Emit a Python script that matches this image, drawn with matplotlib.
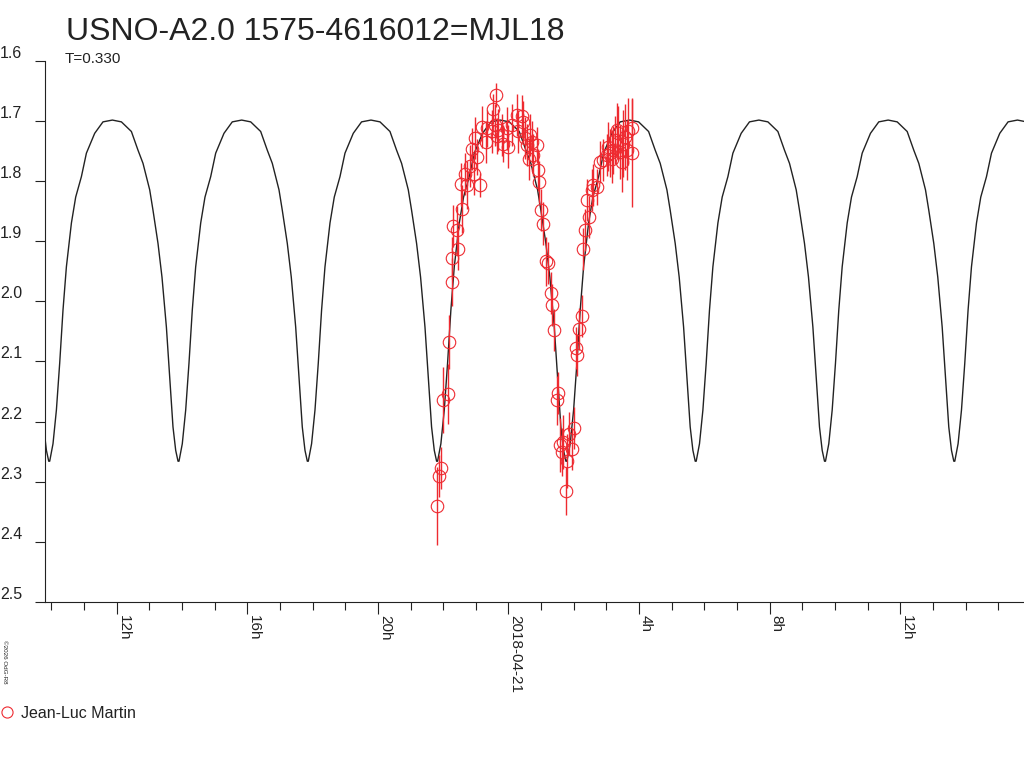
import matplotlib
matplotlib.use("Agg")
import matplotlib.pyplot as plt
from matplotlib.lines import Line2D
import numpy as np

plt.rcParams['font.family'] = ['Liberation Sans', 'DejaVu Sans']

# hours relative to 2018-04-21 00:00
obs_hours = [-2.181, -2.119, -2.067, -1.997, -1.844, -1.813, -1.740, -1.721, -1.691, -1.568,
             -1.556, -1.455, -1.415, -1.332, -1.280, -1.179, -1.127, -1.047, -1.026, -0.974,
             -0.873, -0.821, -0.689, -0.668, -0.515, -0.466, -0.413, -0.392, -0.361, -0.312,
             -0.208, -0.159, -0.055, -0.006, 0.098, 0.251, 0.300, 0.404, 0.453, 0.505,
             0.557, 0.637, 0.658, 0.711, 0.760, 0.864, 0.913, 0.943, 0.986, 1.066,
             1.149, 1.219, 1.292, 1.341, 1.403, 1.476, 1.525, 1.577, 1.629, 1.678,
             1.752, 1.783, 1.853, 1.936, 2.006, 2.067, 2.107, 2.168, 2.242, 2.291,
             2.343, 2.413, 2.475, 2.548, 2.597, 2.701, 2.802, 2.904, 3.008, 3.057,
             3.109, 3.158, 3.210, 3.262, 3.314, 3.363, 3.415, 3.467, 3.516, 3.568,
             3.620, 3.669, 3.773, 3.773]
obs_mag = [2.340, 2.290, 2.278, 2.164, 2.154, 2.068, 1.968, 1.928, 1.875, 1.882,
           1.914, 1.806, 1.847, 1.788, 1.807, 1.776, 1.747, 1.789, 1.729, 1.760,
           1.807, 1.711, 1.736, 1.713, 1.718, 1.681, 1.707, 1.657, 1.725, 1.716,
           1.724, 1.738, 1.713, 1.743, 1.707, 1.691, 1.718, 1.693, 1.702, 1.729,
           1.741, 1.763, 1.724, 1.735, 1.757, 1.741, 1.782, 1.802, 1.849, 1.871,
           1.934, 1.937, 1.987, 2.006, 2.048, 2.165, 2.153, 2.239, 2.251, 2.234,
           2.315, 2.265, 2.220, 2.245, 2.211, 2.078, 2.090, 2.046, 2.025, 1.913,
           1.882, 1.832, 1.860, 1.815, 1.807, 1.810, 1.768, 1.765, 1.757, 1.743,
           1.754, 1.763, 1.749, 1.732, 1.716, 1.721, 1.752, 1.768, 1.738, 1.727,
           1.749, 1.718, 1.713, 1.754]
obs_err = [0.065, 0.035, 0.035, 0.055, 0.050, 0.045, 0.040, 0.035, 0.035, 0.040,
           0.035, 0.035, 0.040, 0.035, 0.040, 0.035, 0.035, 0.035, 0.035, 0.030,
           0.020, 0.035, 0.035, 0.030, 0.035, 0.025, 0.035, 0.020, 0.030, 0.035,
           0.035, 0.030, 0.035, 0.035, 0.035, 0.035, 0.035, 0.035, 0.035, 0.035,
           0.035, 0.035, 0.035, 0.035, 0.035, 0.030, 0.035, 0.035, 0.035, 0.035,
           0.040, 0.035, 0.035, 0.035, 0.035, 0.040, 0.035, 0.045, 0.040, 0.045,
           0.040, 0.045, 0.035, 0.035, 0.035, 0.035, 0.035, 0.035, 0.035, 0.035,
           0.035, 0.035, 0.035, 0.035, 0.035, 0.030, 0.035, 0.035, 0.035, 0.040,
           0.040, 0.040, 0.040, 0.040, 0.045, 0.045, 0.045, 0.050, 0.055, 0.055,
           0.050, 0.055, 0.050, 0.090]

# model light curve: one half-cycle, hours after each minimum
profile_dt = [0.000, 0.101, 0.205, 0.306, 0.407, 0.511, 0.665, 0.796, 0.971, 1.124,
              1.378, 1.632, 1.920, 2.196, 2.502, 2.704, 2.858, 3.063, 3.164, 3.317,
              3.439, 3.574, 3.675, 3.776, 3.859, 3.930]
profile_mag = [2.266, 2.237, 2.181, 2.103, 2.015, 1.943, 1.870, 1.827, 1.793, 1.754,
               1.721, 1.702, 1.699, 1.702, 1.718, 1.749, 1.771, 1.815, 1.849, 1.904,
               1.960, 2.043, 2.126, 2.209, 2.248, 2.266]
minima_hours = [-18.012, -14.052, -10.092, -6.132, -2.172, 1.789, 5.749, 9.709, 13.669]

tick_hours = [-12, -8, -4, 0, 4, 8, 12]
tick_labels = ['12h', '16h', '20h', '2018-04-21', '4h', '8h', '12h']
mag_ticks = [1.6, 1.7, 1.8, 1.9, 2.0, 2.1, 2.2, 2.3, 2.4, 2.5]

curve_t, curve_m = [], []
for t0 in minima_hours:
    for dt, m in zip(profile_dt, profile_mag):
        curve_t.append(t0 + dt)
        curve_m.append(m)

red = '#ee2a30'
ink = '#222222'

fig = plt.figure(figsize=(10.24, 7.68), dpi=100)
ax = fig.add_axes([45 / 1024, 1 - 602 / 768, 1 - 45 / 1024, (602 - 60.5) / 768])

ax.plot(curve_t, curve_m, color=ink, lw=1.0)
ax.errorbar(obs_hours, obs_mag, yerr=obs_err, fmt='o', ms=9, mfc='none', mec=red,
            mew=0.8, ecolor=red, elinewidth=1.0, capsize=0)

ax.set_xlim(-14.196, 15.789)
ax.set_ylim(2.5, 1.6)

ax.set_xticks(tick_hours)
ax.set_xticklabels(tick_labels)
ax.set_xticks(np.arange(-14, 16), minor=True)
ax.tick_params(axis='x', which='major', length=8.6, width=0.8, color=ink, pad=1,
               labelsize=11, labelcolor=ink)
ax.tick_params(axis='x', which='minor', length=5.8, width=0.8, color=ink)
for lbl in ax.get_xticklabels():
    lbl.set_rotation(270)
    lbl.set_ha('left')
    lbl.set_va('top')

ax.set_yticks(mag_ticks)
ax.set_yticklabels(['%.1f' % v for v in mag_ticks])
ax.tick_params(axis='y', length=7, width=0.8, color=ink, pad=9.5, labelsize=11.5,
               labelcolor=ink)
for lbl in ax.get_yticklabels():
    lbl.set_va('bottom')

for s in ['top', 'right']:
    ax.spines[s].set_visible(False)
for s in ['left', 'bottom']:
    ax.spines[s].set_linewidth(0.8)
    ax.spines[s].set_color(ink)

fig.text(66 / 1024, 1 - 40 / 768, 'USNO-A2.0 1575-4616012=MJL18', fontsize=23,
         color=ink, va='baseline', ha='left')
fig.text(65 / 1024, 1 - 63 / 768, 'T=0.330', fontsize=11, color=ink,
         va='baseline', ha='left')
fig.text(2 / 1024, 1 - 640 / 768, '\u00a92026 OdG-R8', fontsize=4.5, color=ink,
         rotation=270, ha='left', va='top')

handle = Line2D([], [], marker='o', ls='none', ms=8, mfc='none', mec=red, mew=0.8)
fig.legend([handle], ['Jean-Luc Martin'], loc='center left',
           bbox_to_anchor=(0, 1 - 713 / 768), frameon=False, fontsize=11.5,
           handlelength=0.9, handletextpad=0.4, borderpad=0, borderaxespad=0,
           labelcolor=ink)

fig.savefig('out.png', dpi=100)
